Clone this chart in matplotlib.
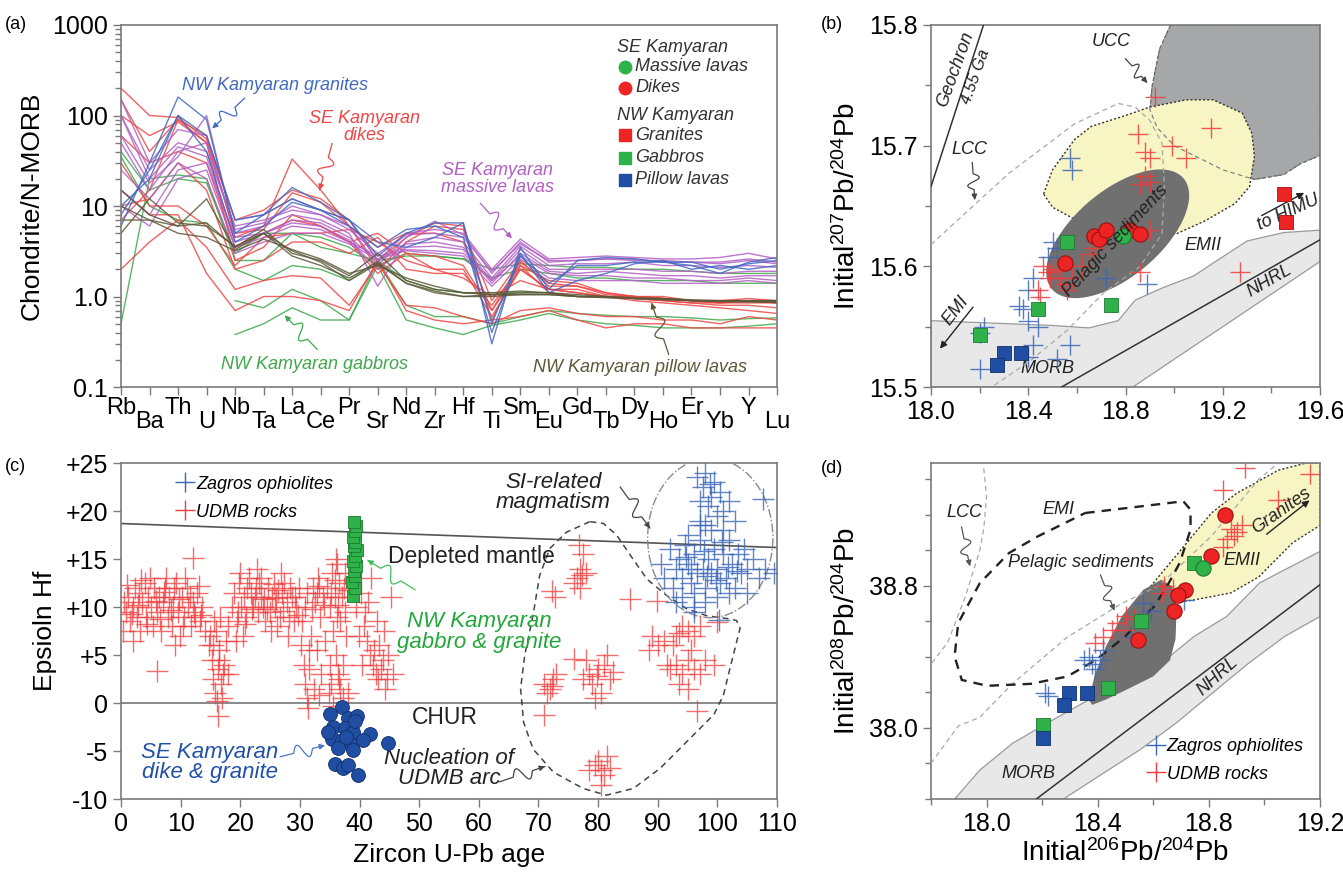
import numpy as np
import matplotlib
matplotlib.use('Agg')
import matplotlib.pyplot as plt
from matplotlib.patches import Polygon, Ellipse
from matplotlib.lines import Line2D

plt.rcParams['font.family'] = ['Liberation Sans', 'DejaVu Sans']
plt.rcParams['mathtext.fontset'] = 'custom'
plt.rcParams['mathtext.rm'] = 'Liberation Sans'
plt.rcParams['mathtext.it'] = 'Liberation Sans:italic'

# ---------------- (a) spider diagram data ----------------
elements = ['Rb', 'Ba', 'Th', 'U', 'Nb', 'Ta', 'La', 'Ce', 'Pr', 'Sr', 'Nd', 'Zr',
            'Hf', 'Ti', 'Sm', 'Eu', 'Gd', 'Tb', 'Dy', 'Ho', 'Er', 'Yb', 'Y', 'Lu']
nan = np.nan
se_lavas = [
    [150, 30, 70, 60, 7, 8, 12, 9, 7, 2.5, 5, 5.5, 5, 2.0, 4.3, 2.6, 2.7, 2.8, 2.7, 2.6, 2.6, 2.7, 3.0, 2.6],
    [100, 25, 50, 40, 6, 7, 9, 8, 6, 2.2, 4.5, 6.8, 4.8, 1.8, 4.0, 2.4, 2.5, 2.6, 2.6, 2.4, 2.4, 2.3, 2.5, 2.3],
    [60, 18, 35, 100, 5, 6, 8, 7, 5, 1.3, 4, 4.5, 4, 1.6, 3.6, 2.2, 2.3, 2.3, 2.4, 2.2, 2.2, 2.1, 2.2, 2.1],
    [15, 8, 25, 30, 4.5, 5, 7, 6.5, 4.5, 2.5, 3.8, 4, 3.5, 1.5, 3.3, 2.0, 2.0, 2.0, 2.0, 1.9, 1.9, 1.8, 1.9, 1.9],
    [100, 20, 45, 35, 4, 5, 6.5, 6, 4.2, 2.0, 3.5, 3.6, 3.3, 1.4, 3.0, 1.9, 1.8, 1.9, 1.8, 1.7, 1.7, 1.6, 1.7, 1.7],
    [10, 6, 20, 25, 3.5, 4.5, 6, 5.5, 4, 2.8, 3.3, 3.2, 3.0, 1.5, 2.8, 1.8, 1.7, 1.7, 1.6, 1.6, 1.5, 1.5, 1.6, 1.5],
    [50, 15, 40, 50, 5.5, 6.5, 10, 8, 5.5, 3.0, 4.8, 5, 4.5, 1.9, 3.8, 2.5, 2.5, 2.6, 2.5, 2.5, 2.4, 2.4, 2.6, 2.4],
    [25, 12, 30, 20, 3, 4, 5, 5, 3.8, 2.6, 3.2, 3.0, 2.8, 1.3, 2.6, 1.6, 1.5, 1.5, 1.5, 1.4, 1.4, 1.4, 1.5, 1.4],
]
se_dikes = [
    [200, 100, 95, 55, 7, 9, 15, 12, 7, 2.5, 4.5, 6.5, 6, 0.55, 2.2, 1.5, 1.4, 1.1, 1.0, 0.95, 0.9, 0.85, 0.9, 0.85],
    [150, 40, 90, 60, 4.5, 6, 33, 15, 6, 2, 4, 6, 5.5, 0.9, 2.5, 1.3, 1.3, 1.1, 1.0, 1.0, 0.9, 0.9, 0.9, 0.9],
    [60, 30, 40, 30, 3.5, 5, 7, 6, 4, 1.8, 3, 2, 2, 0.6, 2.0, 1.2, 1.2, 1.0, 1.0, 0.95, 0.9, 0.85, 0.85, 0.85],
    [30, 10, 10, 6, 2.2, 4.5, 5, 5, 5.5, 4, 2.5, 2, 1.6, 1.0, 1.5, 1.2, 1.1, 1.0, 0.95, 0.9, 0.85, 0.8, 0.8, 0.75],
    [15, 8, 8, 1.8, 0.7, 1.0, 1.0, 0.9, 0.7, 2.5, 0.7, 0.55, 0.5, 0.55, 0.6, 0.7, 0.55, 0.45, 0.5, 0.5, 0.45, 0.45, 0.45, 0.45],
    [2, 4, 7, 3.5, 1.2, 1.5, 1.7, 1.6, 0.8, 2.3, 0.8, 0.75, 0.6, 0.5, 0.7, 0.75, 0.65, 0.6, 0.6, 0.55, 0.55, 0.5, 0.6, 0.55],
    [10, 12, 30, 15, 2, 2.5, 4, 4, 3, 4.5, 2, 1.8, 1.8, 0.8, 2.2, 1.1, 1.0, 1.0, 0.95, 0.9, 0.85, 0.85, 0.9, 0.85],
    [100, 60, 85, 50, 5, 5.5, 14, 11, 6, 3.5, 5, 5, 4, 0.7, 2.4, 1.4, 1.3, 1.05, 1.0, 0.95, 0.9, 0.9, 0.95, 0.9],
    [7, 15, 90, 50, 2.5, 3.5, 8, 6, 4, 5, 3, 2.8, 2.2, 0.7, 2.0, 1.2, 1.1, 1.0, 0.9, 0.85, 0.8, 0.75, 0.7, 0.65],
]
nw_granites = [
    [6, 30, 160, 90, 5, 8, 16, 11, 7, 2.8, 5, 6.5, 6.5, 0.3, 3.5, 1.2, 2.5, 2.7, 2.6, 2.4, 2.2, 1.8, 2.4, 2.7],
    [10, 20, 100, 60, 7, 8, 12, 9, 6, 3.5, 5.5, 6, 4.5, 0.4, 2.8, 1.4, 2.2, 2.2, 2.4, 2.4, 2.4, 2.0, 2.3, 2.5],
    [8, 25, 100, 40, 4, 6, 11, 9, 7, 4, 3.5, 4.5, 6.5, 0.5, 3.0, 1.1, 1.5, 1.8, 2.3, 2.5, 2.0, 2.2, 2.0, 2.2],
]
nw_gabbros = [
    [0.5, 20, 22, 20, 2.5, 2.5, 5, 3.5, 3, 2.5, 2.8, 2.8, 2.6, 2.0, 2.3, 2.2, 2.1, 2.1, 2.0, 2.0, 1.9, 1.8, 1.8, 1.8],
    [35, 10, 7, 6.5, 2, 1.5, 2.2, 2, 1.5, 2.5, 1.5, 1.2, 1.1, 1.1, 1.1, 1.1, 1.0, 1.0, 1.0, 0.95, 0.9, 0.9, 0.9, 0.9],
    [40, 15, 20, 18, 3, 5, 5, 4.5, 3.5, 2.2, 3, 2.8, 2.6, 1.6, 2.0, 1.8, 1.6, 1.6, 1.5, 1.5, 1.5, 1.4, 1.4, 1.4],
    [nan, nan, nan, nan, 0.9, 0.75, 1.2, 0.9, 0.55, 2.5, 0.8, 0.6, 0.6, 0.5, 0.6, 0.7, 0.65, 0.62, 0.6, 0.6, 0.58, 0.55, 0.57, 0.58],
    [nan, nan, nan, nan, 0.38, 0.5, 0.75, 0.55, 0.55, 2.2, 0.55, 0.45, 0.38, 0.48, 0.55, 0.65, 0.55, 0.5, 0.48, 0.45, 0.45, 0.45, 0.47, 0.5],
]
nw_pillow = [
    [15, 8, 6, 6.5, 3.5, 5.5, 3, 2.5, 1.7, 3, 1.5, 1.2, 1.1, 1.05, 1.05, 1.05, 1.0, 1.0, 0.95, 0.95, 0.9, 0.9, 0.9, 0.9],
    [10, 7, 6, 12, 3.3, 5, 2.8, 2.2, 1.6, 2.4, 1.4, 1.1, 1.0, 1.05, 1.1, 1.1, 1.0, 0.98, 0.95, 0.93, 0.9, 0.88, 0.88, 0.88],
    [7, 7, 5, 4.5, 3.2, 4.3, 3.3, 2.6, 1.8, 2.2, 1.6, 1.3, 1.1, 1.1, 1.15, 1.1, 1.05, 1.0, 0.97, 0.95, 0.92, 0.9, 0.9, 0.9],
    [5, 12, 6.5, 6, 3.6, 5, 3.2, 2.4, 1.5, 2.3, 1.4, 1.15, 1.0, 1.0, 1.05, 1.05, 1.0, 0.97, 0.95, 0.92, 0.9, 0.88, 0.87, 0.86],
]

# ---------------- (b) 206Pb/204Pb vs 207Pb/204Pb ----------------
b_zagros = [(18.57, 15.69), (18.58, 15.68), (18.50, 15.62), (18.52, 15.615), (18.48, 15.608),
            (18.72, 15.59), (18.89, 15.585), (18.42, 15.59), (18.40, 15.58), (18.36, 15.567),
            (18.38, 15.565), (18.40, 15.555), (18.44, 15.55), (18.22, 15.55), (18.20, 15.545),
            (18.42, 15.535), (18.57, 15.535), (18.52, 15.523), (18.20, 15.515), (18.40, 15.525)]
b_udmb = [(18.92, 15.74), (18.85, 15.71), (19.15, 15.715), (18.88, 15.695), (18.90, 15.69),
          (18.99, 15.70), (19.05, 15.69), (18.88, 15.675), (18.90, 15.67), (18.86, 15.668),
          (18.90, 15.63), (18.67, 15.615), (18.65, 15.61), (18.62, 15.60), (18.50, 15.598),
          (18.48, 15.595), (18.52, 15.596), (18.46, 15.60), (18.55, 15.585), (18.53, 15.59),
          (18.56, 15.58), (18.45, 15.575), (18.44, 15.58), (18.86, 15.595), (19.27, 15.595),
          (18.58, 15.59), (18.49, 15.59)]
b_dikes = [(18.55, 15.603), (18.67, 15.625), (18.69, 15.623), (18.72, 15.63), (18.82, 15.63), (18.86, 15.627)]
b_lavas = [(18.79, 15.625)]
b_granites = [(19.45, 15.66), (19.46, 15.637)]
b_gabbros = [(18.56, 15.62), (18.44, 15.565), (18.74, 15.568), (18.20, 15.543)]
b_pillow = [(18.30, 15.528), (18.37, 15.528), (18.27, 15.518)]

b_morb = [(18.0, 15.555), (18.5, 15.551), (18.65, 15.549), (18.77, 15.555), (18.84, 15.572),
          (18.95, 15.582), (19.08, 15.592), (19.17, 15.604), (19.3, 15.621), (19.45, 15.628),
          (19.6, 15.63), (19.6, 15.604), (18.83, 15.5), (18.0, 15.5)]
b_ucc = [(18.985, 15.8), (18.94, 15.78), (18.91, 15.75), (18.90, 15.73), (18.93, 15.715),
         (19.0, 15.70), (19.1, 15.69), (19.2, 15.68), (19.33, 15.672), (19.45, 15.676),
         (19.52, 15.685), (19.6, 15.692), (19.6, 15.8)]
b_emii = [(18.463, 15.660), (18.5, 15.680), (18.59, 15.705), (18.66, 15.716), (18.80, 15.725),
          (18.90, 15.732), (19.05, 15.738), (19.16, 15.738), (19.28, 15.727), (19.32, 15.71),
          (19.33, 15.691), (19.31, 15.666), (19.25, 15.652), (19.13, 15.638), (19.01, 15.627),
          (18.86, 15.624), (18.71, 15.63), (18.60, 15.638), (18.5, 15.649)]
b_lcc = [(18.0, 15.618), (18.32, 15.677), (18.59, 15.718), (18.77, 15.735), (18.84, 15.732),
         (18.90, 15.721), (18.95, 15.702), (18.96, 15.666), (18.95, 15.627), (18.86, 15.6),
         (18.71, 15.578), (18.56, 15.547), (18.41, 15.522), (18.25, 15.5)]
b_nhrl = [(18.537, 15.5), (19.6, 15.622)]
b_geochron = [(18.0, 15.666), (18.216, 15.8)]

# ---------------- (c) zircon age vs epsilon Hf ----------------
c_udmb = [
    (0.3, 7.5), (0.8, 9.5), (1.2, 11), (1.5, 8.5), (2.0, 10), (2.3, 12), (2.6, 9), (3.0, 11.5), (3.2, 7.5),
    (3.6, 10.5), (4.0, 12.5), (4.2, 9), (4.6, 11), (5.0, 10), (5.3, 8), (5.6, 12), (6.0, 9.5), (6.3, 11),
    (6.7, 7.5), (7.0, 10.5), (7.4, 12), (7.8, 9), (8.1, 11), (8.5, 8), (8.8, 10), (9.2, 12.5), (9.5, 9.5),
    (9.9, 7), (10.2, 11), (10.6, 9), (11.0, 12), (11.3, 10), (11.7, 8), (12.0, 10.5), (12.4, 9), (12.8, 11.5),
    (13.2, 8.5), (13.6, 10), (14.0, 7.5), (6.0, 3.3), (12.1, 15.1), (2.0, 6.5), (9.0, 6),
    (0.5, 10.5), (1.0, 12.3), (1.8, 9.3), (2.8, 10.2), (3.4, 12.8), (4.4, 8.2), (4.8, 13), (5.8, 10.6),
    (6.5, 8.8), (7.2, 11.6), (7.6, 13), (8.3, 9.7), (8.9, 12), (9.7, 10.8), (10.4, 8), (10.8, 13),
    (11.5, 11), (12.2, 9.5), (13.0, 12.2), (13.4, 9.2),
    (14.8, 6), (15.2, 4.5), (15.5, 2.5), (15.8, 1), (16.0, 7.5), (16.2, 3.5), (16.5, 5.5), (16.8, 2),
    (17.0, 0.5), (16.3, -1.3), (17.3, 4), (17.6, 6.5), (15.6, 8.5), (18.0, 3), (16.6, 9), (17.9, 8),
    (16.1, 0.2), (15.0, 7.0), (16.4, 4.5), (15.4, 6), (17.1, 3),
    (18.6, 10), (19.0, 11.5), (19.4, 8.5), (19.8, 12.5), (20.2, 10), (20.6, 11), (21.0, 9), (21.4, 13),
    (21.8, 11.5), (22.2, 10), (22.6, 12), (23.0, 9.5), (23.4, 11), (23.8, 10), (24.2, 8.5), (24.6, 12),
    (25.0, 9.5), (25.4, 11), (25.8, 10), (26.2, 8), (26.6, 9), (27.0, 11.5), (27.4, 12.5), (27.8, 10.5),
    (28.2, 9), (28.6, 11), (29.0, 8.5), (29.4, 10), (29.8, 12), (20.5, 7), (22.8, 14), (19.2, 6.5),
    (25.2, 7.5), (23.5, 13), (26.8, 13.5), (28.0, 7),
    (19.6, 9.5), (20.0, 13.5), (20.8, 8.2), (21.2, 12), (22.0, 9.8), (22.4, 11), (23.2, 12.5), (24.0, 10.8),
    (24.4, 9.8), (25.6, 12.4), (26.0, 10.9), (26.4, 11.8), (27.2, 9.6), (28.4, 12), (29.2, 11), (29.6, 9.2),
    (30.2, 6), (30.6, 4), (30.9, 2), (31.2, 0.5), (30.4, 8.5), (31.6, 3.5), (31.8, 7), (32.2, 12),
    (32.6, 10.5), (33.0, 13), (32.8, 5.5), (31.4, -0.5), (33.4, 9), (33.8, 11), (33.6, 3), (32.4, 1.5),
    (34.2, 6.5), (33.2, 0.8), (30.8, 10), (31.2, 11.5), (31.5, 5.5), (32.0, 9.8), (32.8, 11.5), (33.2, 12.2),
    (34.0, 10.2),
    (34.6, 12), (35.0, 10), (35.4, 13.5), (35.8, 11), (36.2, 14.5), (36.6, 12.5), (35.6, 7.5), (36.0, 5),
    (36.4, 3), (36.8, 1.5), (37.2, 0.5), (35.2, 2), (34.8, 1), (37.6, 9.5), (36.8, 8.5), (37.6, 13.5),
    (36.0, 15), (37.2, 4), (35.5, -0.3), (37.0, 11), (35.2, 11.5), (35.8, 12.8), (36.4, 10.2), (37.4, 12),
    (38.0, 11.8), (36.2, 9), (37.8, 7), (35.0, 4), (36.6, 2.5), (38.0, 1),
    (39.4, 10), (39.9, 7), (40.3, 11.5), (40.8, 8), (41.2, 6.5), (41.7, 5), (42.2, 4), (42.7, 3),
    (43.1, 2.5), (43.6, 3.5), (44.1, 7.5), (44.6, 2.5), (43.9, 4.5), (42.9, 8.5), (45.3, 11), (40.9, 9.5),
    (40.4, 4), (41.9, 13), (44.2, 1.5), (42.4, 5.5), (41.4, 10.5), (43.3, 6), (44.8, 5), (45.6, 3),
    (72.3, 11.7), (72.8, 11.0), (76.0, 12.5), (76.5, 13.0), (77.0, 14.0), (77.5, 15.5), (77.0, 12.0),
    (78.0, 13.5), (76.8, 16.5), (77.3, 13.3), (85.4, 10.8), (89.8, 10.6),
    (88.5, 5.5), (89.0, 7.0), (90.0, 6.0), (91.0, 6.5), (92.5, 6.0), (93.0, 7.0), (94.0, 8.0), (95.0, 7.5),
    (96.0, 7.0), (97.0, 8.0), (95.5, 5.5), (93.5, 7.3),
    (92.0, 3.5), (93.0, 4.0), (94.0, 3.0), (95.0, 4.5), (96.0, 3.5), (97.0, 3.0), (93.5, 2.0), (95.0, 1.5),
    (98.0, 4.5), (91.5, 4.0), (100.0, 8.4), (99.5, 4.0),
    (71.0, 2.0), (72.0, 1.5), (72.5, 2.5), (71.5, 1.0), (73.0, 3.0), (72.2, 1.8), (70.9, -1.2), (75.9, 4.6),
    (77.5, 2.5), (78.5, 3.0), (79.0, 2.0), (80.0, 3.5), (81.0, 4.0), (82.0, 2.5), (80.5, 1.0), (79.5, 0.5),
    (78.0, 4.5), (81.5, 5.0), (79.8, 2.8), (82.5, 3.2),
    (96.6, -0.8), (80.0, -6.0), (80.5, -7.0), (81.0, -7.5), (81.5, -5.5), (80.5, -8.5), (79.5, -6.5),
    (82.0, -6.8), (78.5, -7.0)]
c_zagros = [
    (96.5, 23.5), (97.5, 22.5), (98.0, 24.0), (99.0, 21.5), (98.5, 20.5), (97.0, 21.0), (99.5, 23.0),
    (100.0, 19.5), (98.0, 18.5), (101.0, 20.0), (100.5, 22.0), (97.0, 19.0), (107.6, 21.3), (98.8, 22.8),
    (102.0, 21.0), (92.0, 16.0), (93.0, 14.0), (93.5, 15.0), (94.0, 13.0), (94.5, 16.5), (95.0, 14.5),
    (95.5, 12.5), (96.0, 15.5), (96.5, 13.5), (97.0, 17.0), (97.5, 14.0), (98.0, 12.0), (98.5, 15.0),
    (99.0, 13.5), (99.5, 16.0), (100.0, 14.0), (100.5, 12.5), (101.0, 15.5), (101.5, 13.0), (102.0, 17.0),
    (102.5, 14.5), (103.0, 12.0), (103.5, 15.5), (104.0, 13.5), (104.5, 16.0), (105.0, 14.0), (106.0, 15.0),
    (107.0, 13.0), (108.0, 14.0), (109.5, 13.5), (91.0, 13.0), (92.5, 12.0), (94.0, 11.0), (96.0, 11.5),
    (98.0, 10.5), (100.0, 11.0), (102.0, 11.5), (97.0, 18.5), (99.0, 18.0), (101.0, 18.0), (103.0, 19.0),
    (95.0, 17.5), (96.0, 10.0), (105.0, 11.5), (93.0, 10.5), (90.5, 14.5), (100.2, 8.6), (96.0, 9.5),
    (95.5, 14.0), (97.8, 15.8), (99.8, 12.8), (101.8, 14.2), (94.8, 15.2), (103.2, 13.8), (98.2, 13.2),
    (100.8, 16.8)]
c_nw_age = [38.9, 39.2, 38.8, 39.3, 39.0, 39.4, 38.9, 39.2, 39.5, 39.0, 39.3, 38.9, 39.2, 39.4, 39.1]
c_nw_ehf = [11.2, 12.0, 12.6, 13.2, 13.8, 14.3, 14.8, 15.3, 15.9, 16.4, 16.8, 17.3, 17.9, 18.4, 18.9]
c_se = [(37.0, -0.4), (35.0, -1.1), (38.1, -1.6), (39.5, -1.4), (35.6, -2.5), (37.5, -2.6), (38.9, -3.0),
        (41.7, -3.2), (35.3, -3.7), (37.0, -3.9), (38.7, -4.4), (40.6, -3.9), (44.8, -4.2), (36.4, -4.7),
        (38.9, -4.9), (35.9, -6.3), (37.3, -6.8), (38.1, -6.5), (39.8, -7.5), (39.2, -1.9), (34.7, -3.0),
        (37.8, -3.5)]
dm_age = [0, 110]
dm_ehf = [18.7, 16.2]
c_nucleation = [(78.6, 18.9), (74.7, 17.8), (71.9, 16.1), (70.2, 13.3), (69.1, 9.2), (67.7, 5.0),
                (67.0, 1.5), (67.5, -2.0), (69.1, -4.8), (72.5, -7.2), (77.5, -8.9), (81.4, -9.6),
                (85.9, -8.9), (90.4, -6.8), (94.9, -4.0), (99.4, -1.2), (101.0, 0.8), (102.1, 3.6),
                (103.8, 7.8), (103.2, 8.6), (101.6, 8.8), (98.2, 9.1), (94.9, 9.8), (91.5, 11.2),
                (88.2, 12.9), (85.4, 15.4), (83.1, 17.5), (80.9, 18.7)]

# ---------------- (d) 206Pb/204Pb vs 208Pb/204Pb ----------------
d_zagros = [(18.21, 38.195), (18.22, 38.18), (18.368, 38.40), (18.38, 38.36), (18.41, 38.38),
            (18.35, 38.38), (18.42, 38.44), (18.52, 38.51), (18.564, 38.70), (18.59, 38.66),
            (18.71, 38.72), (18.39, 38.33)]
d_udmb = [(18.93, 39.46), (18.85, 39.34), (19.165, 39.43), (19.05, 39.28), (18.88, 39.12), (18.90, 39.10),
          (18.865, 39.06), (18.89, 39.08), (18.85, 39.02), (18.92, 39.14), (18.64, 38.80), (18.67, 38.78),
          (18.63, 38.76), (18.50, 38.63), (18.47, 38.59), (18.45, 38.55), (18.42, 38.51), (18.39, 38.48),
          (18.49, 38.55), (18.53, 38.61)]
d_dikes = [(18.858, 39.2), (18.806, 38.965), (18.714, 38.777), (18.688, 38.749), (18.675, 38.655), (18.544, 38.496)]
d_lavas = [(18.78, 38.90)]
d_gabbros = [(18.747, 38.93), (18.557, 38.603), (18.436, 38.223), (18.202, 38.017)]
d_pillow = [(18.202, 37.942), (18.296, 38.195), (18.362, 38.195), (18.277, 38.13)]

d_morb = [(17.885, 37.6), (17.976, 37.763), (18.094, 37.914), (18.238, 38.045), (18.368, 38.158),
          (18.499, 38.252), (18.629, 38.364), (18.747, 38.515), (18.864, 38.627), (18.982, 38.815),
          (19.073, 38.89), (19.2, 38.993), (19.2, 38.627), (19.073, 38.515), (18.943, 38.364),
          (18.812, 38.195), (18.681, 38.026), (18.551, 37.876), (18.42, 37.745), (18.277, 37.6)]
d_pelagic = [(18.368, 38.158), (18.39, 38.30), (18.43, 38.46), (18.486, 38.627), (18.564, 38.777),
             (18.629, 38.834), (18.668, 38.796), (18.684, 38.665), (18.68, 38.50), (18.66, 38.38),
             (18.60, 38.29), (18.51, 38.22), (18.43, 38.16), (18.38, 38.13)]
d_emii = [(18.59, 38.796), (18.68, 38.965), (18.81, 39.21), (18.90, 39.32), (19.05, 39.45), (19.15, 39.49),
          (19.2, 39.49), (19.2, 39.14), (19.10, 39.04), (18.98, 38.85), (18.88, 38.76), (18.747, 38.72),
          (18.655, 38.70), (18.60, 38.72)]
d_emi = [(18.355, 39.209), (18.708, 39.275), (18.734, 39.228), (18.734, 39.115), (18.695, 38.928),
         (18.649, 38.796), (18.603, 38.684), (18.499, 38.515), (18.394, 38.383), (18.29, 38.289),
         (18.159, 38.248), (18.002, 38.237), (17.911, 38.27), (17.885, 38.402), (17.898, 38.59),
         (17.976, 38.815), (18.081, 38.984), (18.185, 39.078)]
d_lcc_a = [(17.99, 39.46), (18.0, 39.3), (17.99, 39.12), (17.976, 39.0), (17.924, 38.74), (17.86, 38.48), (17.8, 38.36)]
d_lcc_b = [(17.8, 37.80), (17.898, 38.01), (17.976, 38.06), (18.094, 38.25), (18.29, 38.51), (18.486, 38.70),
           (18.62, 38.80), (18.81, 39.08), (18.98, 39.40), (19.05, 39.49)]
d_nhrl = [(18.179, 37.6), (19.2, 38.806)]

# colours
RED, PURPLE, BLUE, GREEN, OLIVE = '#ef4646', '#b25fc4', '#4169c0', '#3fa84c', '#5c5838'
CROSS_RED, CROSS_BLUE = '#f03c3c', '#3a66b8'
DOT_RED, DOT_GREEN, DOT_BLUE = '#ee2424', '#2fb24a', '#1f4ea3'
GRID = '#7a7a7a'
TICK = 18
LAB = 19
ANN = 13


def frame(ax, size=TICK):
    for s in ax.spines.values():
        s.set_color(GRID)
        s.set_linewidth(1.2)
    ax.tick_params(which='both', direction='out', color=GRID, labelsize=size, length=6, width=1)
    ax.tick_params(which='minor', length=4)


def squiggle(ax, start, end, color, amp=7, lw=0.9):
    tr = ax.transData
    p0 = np.array(tr.transform(start))
    p1 = np.array(tr.transform(end))
    d = p1 - p0
    u = d / np.hypot(*d)
    n = np.array([-u[1], u[0]])
    s = np.linspace(0, 1, 120)
    w = np.where((s > 0.3) & (s < 0.72), np.sin((s - 0.3) / 0.42 * 2 * np.pi), 0.0)
    pts_ = p0 + np.outer(s, d) + np.outer(amp * w, n)
    dat = tr.inverted().transform(pts_)
    ax.plot(dat[:-4, 0], dat[:-4, 1], color=color, lw=lw, clip_on=False, zorder=6)
    ax.annotate('', xy=dat[-1], xytext=dat[-8],
                arrowprops=dict(arrowstyle='-|>', color=color, lw=lw, mutation_scale=8), zorder=6)


def arrow(ax, start, end, color='#222222'):
    ax.annotate('', xy=end, xytext=start,
                arrowprops=dict(arrowstyle='-|>', color=color, lw=1.0, mutation_scale=10), zorder=6)


def disp_ellipse(ax, center, w_px, h_px, angle, **kw):
    t = np.linspace(0, 2 * np.pi, 200)
    c = ax.transData.transform(center)
    a = np.deg2rad(angle)
    xs, ys = w_px / 2 * np.cos(t), h_px / 2 * np.sin(t)
    px = c[0] + xs * np.cos(a) - ys * np.sin(a)
    py = c[1] + xs * np.sin(a) + ys * np.cos(a)
    pp = ax.transData.inverted().transform(np.column_stack([px, py]))
    ax.add_patch(Polygon(pp, closed=True, **kw))


def pts(ax, data, marker, color, ms, edge=None, z=7, mew=1.0, alpha=1.0):
    arr = np.array(data)
    ax.plot(arr[:, 0], arr[:, 1], linestyle='none', marker=marker, color=color, ms=ms,
            mec=edge if edge else color, mew=mew, alpha=alpha, zorder=z)


fig = plt.figure(figsize=(13.43, 8.77), dpi=100)
ax_a = fig.add_axes([0.0901, 0.5587, 0.4885, 0.4128])
ax_b = fig.add_axes([0.6932, 0.5587, 0.2897, 0.4128])
ax_c = fig.add_axes([0.0901, 0.0889, 0.4885, 0.3831])
ax_d = fig.add_axes([0.6932, 0.0889, 0.2897, 0.3831])

# ======================= (a) =======================
ax = ax_a
frame(ax)
x = np.arange(len(elements))
for group, col in [(nw_gabbros, GREEN), (se_dikes, RED), (se_lavas, PURPLE), (nw_granites, BLUE), (nw_pillow, OLIVE)]:
    for row in group:
        ax.plot(x, row, color=col, lw=1.0, alpha=0.85)
ax.set_yscale('log')
ax.set_ylim(0.1, 1000)
ax.set_xlim(0, len(elements) - 1)
ax.set_yticks([0.1, 1, 10, 100, 1000])
ax.set_yticklabels(['0.1', '1.0', '10', '100', '1000'])
ax.set_xticks(x)
ax.set_xticklabels(elements)
ax.tick_params(axis='x', labelsize=17, pad=1)
for lab in ax.get_xticklabels()[1::2]:
    lab.set_y(-0.04)
ax.set_ylabel('Chondrite/N-MORB', fontsize=LAB, labelpad=6)

ax.text(5.4, 215, 'NW Kamyaran granites', color=BLUE, style='italic', fontsize=ANN, ha='center', va='center')
ax.text(8.55, 75, 'SE Kamyaran\ndikes', color=RED, style='italic', fontsize=ANN, ha='center', va='center', linespacing=1.0)
ax.text(13.2, 20, 'SE Kamyaran\nmassive lavas', color=PURPLE, style='italic', fontsize=ANN, ha='center', va='center', linespacing=1.0)
ax.text(6.8, 0.176, 'NW Kamyaran gabbros', color=GREEN, style='italic', fontsize=ANN, ha='center', va='center')
ax.text(18.2, 0.165, 'NW Kamyaran pillow lavas', color=OLIVE, style='italic', fontsize=ANN, ha='center', va='center')
squiggle(ax, (4.33, 155), (3.2, 72), BLUE)
squiggle(ax, (7.4, 49), (6.96, 15), RED)
squiggle(ax, (12.6, 10.7), (13.7, 4.4), PURPLE)
squiggle(ax, (6.88, 0.26), (5.74, 0.62), GREEN)
squiggle(ax, (19.2, 0.23), (18.6, 0.85), OLIVE)

# legend of (a)
leg_rows = [('SE Kamyaran', None, None, 0.939), ('Massive lavas', 'o', DOT_GREEN, 0.884),
            ('Dikes', 'o', DOT_RED, 0.826), ('NW Kamyaran', None, None, 0.751),
            ('Granites', 's', DOT_RED, 0.696), ('Gabbros', 's', DOT_GREEN, 0.633),
            ('Pillow lavas', 's', DOT_BLUE, 0.572)]
for label, mk, col, yy in leg_rows:
    if mk is None:
        ax.text(0.756, yy, label, transform=ax.transAxes, style='italic', fontsize=ANN, color='#333333', va='center')
    else:
        ax.plot([0.768], [yy], marker=mk, color=col, ms=9, transform=ax.transAxes, clip_on=False)
        ax.text(0.784, yy, label, transform=ax.transAxes, style='italic', fontsize=ANN, color='#333333', va='center')

# ======================= (b) =======================
ax = ax_b
frame(ax)
ax.set_xlim(18.0, 19.6)
ax.set_ylim(15.5, 15.8)
ax.set_xticks([18.0, 18.4, 18.8, 19.2, 19.6])
ax.set_xticks(np.arange(18.2, 19.6, 0.4), minor=True)
ax.set_yticks([15.5, 15.6, 15.7, 15.8])
ax.set_yticks([15.55, 15.65, 15.75], minor=True)
ax.xaxis.set_major_formatter(plt.FormatStrFormatter('%.1f'))
ax.yaxis.set_major_formatter(plt.FormatStrFormatter('%.1f'))
ax.set_ylabel('Initial$^{\\mathregular{207}}$Pb/$^{\\mathregular{204}}$Pb', fontsize=LAB + 1, labelpad=6)

ax.add_patch(Polygon(b_morb, closed=True, fc='#e8e8e8', ec='#9a9a9a', lw=0.9, zorder=1))
ax.add_patch(Polygon(b_ucc, closed=True, fc='#a5a7a9', ec='#555555', lw=0.8, ls=(0, (3, 2)), zorder=1))
ax.add_patch(Polygon(b_emii, closed=True, fc='#f8f5c4', ec='#333333', lw=1.0, ls=(0, (1.5, 1.5)), zorder=2))
ax.add_patch(Polygon(b_ucc, closed=True, fill=False, ec='#777777', lw=0.8, ls=(0, (4, 3)), zorder=2.5))
ax.plot(*zip(*b_lcc), color='#a8a8a8', lw=0.9, ls=(0, (4, 3)), zorder=4)
ax.plot(*zip(*b_nhrl), color='#333333', lw=1.1, zorder=3)
ax.plot(*zip(*b_geochron), color='#333333', lw=1.1, zorder=3)
disp_ellipse(ax, (18.768, 15.627), 172, 86, 40, fc='#707070', ec='none', zorder=3)

pts(ax, b_zagros, '+', CROSS_BLUE, 15, z=6, alpha=0.85)
pts(ax, b_udmb, '+', CROSS_RED, 15, z=6, alpha=0.85)
pts(ax, b_gabbros, 's', DOT_GREEN, 9.5, edge='#1d7a30', mew=0.6)
pts(ax, b_pillow, 's', DOT_BLUE, 9.5, edge='#10306a', mew=0.6)
pts(ax, b_granites, 's', DOT_RED, 9.5, edge='#a01010', mew=0.6)
pts(ax, b_dikes, 'o', DOT_RED, 11, edge='#9a1010', mew=0.8, z=8)
pts(ax, b_lavas, 'o', DOT_GREEN, 11, edge='#1d7a30', mew=0.8, z=8)

it = dict(style='italic', color='#222222', ha='center', va='center')
ax.text(18.10, 15.763, 'Geochron', rotation=70, fontsize=ANN, **it)
ax.text(18.185, 15.757, '4.55 Ga', rotation=70, fontsize=ANN - 1.5, **it)
ax.text(18.74, 15.786, 'UCC', fontsize=ANN, **it)
ax.text(18.16, 15.697, 'LCC', fontsize=ANN, **it)
ax.text(18.76, 15.621, 'Pelagic sediments', rotation=47, fontsize=ANN, zorder=9, **it)
ax.text(19.12, 15.617, 'EMII', fontsize=ANN, **it)
ax.text(19.47, 15.645, 'to HIMU', rotation=24, fontsize=ANN, **it)
ax.text(19.39, 15.588, 'NHRL', rotation=30, fontsize=ANN, **it)
ax.text(18.10, 15.563, 'EMI', rotation=52, fontsize=ANN, **it)
ax.text(18.48, 15.515, 'MORB', fontsize=ANN, **it)
squiggle(ax, (18.80, 15.772), (18.89, 15.752), '#444444', amp=6)
squiggle(ax, (18.17, 15.686), (18.18, 15.655), '#444444', amp=6)
arrow(ax, (18.18, 15.568), (18.03, 15.53))
arrow(ax, (19.35, 15.641), (19.545, 15.662))

# ======================= (c) =======================
ax = ax_c
frame(ax)
ax.set_xlim(0, 110)
ax.set_ylim(-10, 25)
ax.set_xticks(np.arange(0, 111, 10))
ax.set_yticks(np.arange(-10, 26, 5))
ax.set_yticklabels(['-10', '-5', '0', '+5', '+10', '+15', '+20', '+25'])
ax.set_xlabel('Zircon U-Pb age', fontsize=LAB, labelpad=5)
ax.set_ylabel('Epsioln Hf', fontsize=LAB, labelpad=6)

ax.plot(dm_age, dm_ehf, color='#555555', lw=1.2, zorder=2)
ax.axhline(0, color='#777777', lw=1.2, zorder=2)
ax.add_patch(Polygon(c_nucleation, closed=True, fill=False, ec='#444444', lw=1.1, ls=(0, (4, 3)), zorder=3))
ax.add_patch(Ellipse((98.8, 17.2), 21, 16.6, fill=False, ec='#8a8a8a', lw=1.0, ls='-.', zorder=3))

pts(ax, c_udmb, '+', CROSS_RED, 16, z=4, alpha=0.75)
pts(ax, c_zagros, '+', CROSS_BLUE, 16, z=4, alpha=0.8)
ax.plot(c_nw_age, c_nw_ehf, linestyle='none', marker='s', color=DOT_GREEN, mec='#1d7a30', mew=0.6, ms=9, zorder=6)
pts(ax, c_se, 'o', DOT_BLUE, 10, edge='#10306a', mew=0.6, z=6)

ax.text(58.7, 15.3, 'Depleted mantle', fontsize=16.5, color='#222222', ha='center', va='center')
ax.text(54.3, -1.5, 'CHUR', fontsize=16.5, color='#222222', ha='center', va='center')
ax.text(60, 7.4, 'NW Kamyaran\ngabbro & granite', fontsize=16, color='#22a83a', style='italic',
        ha='center', va='center', linespacing=0.95)
ax.text(14.9, -6.2, 'SE Kamyaran\ndike & granite', fontsize=16, color='#2150a8', style='italic',
        ha='center', va='center', linespacing=0.95)
ax.text(55, -6.8, 'Nucleation of\nUDMB arc', fontsize=16, color='#222222', style='italic',
        ha='center', va='center', linespacing=0.95)
ax.text(72.5, 21.9, 'SI-related\nmagmatism', fontsize=16, color='#222222', style='italic',
        ha='center', va='center', linespacing=0.95)
squiggle(ax, (83.7, 22.5), (88.7, 18.2), '#444444', amp=7)
squiggle(ax, (49.3, 11.8), (41.3, 14.9), '#3fbf5a', amp=7)
squiggle(ax, (26.7, -5.6), (34.2, -4.4), '#4a78c8', amp=7)
squiggle(ax, (63.5, -8.2), (71.1, -6.6), '#444444', amp=7)

hz = Line2D([], [], ls='none', marker='+', ms=15, mew=1.0, color=CROSS_BLUE, label='Zagros ophiolites')
hu = Line2D([], [], ls='none', marker='+', ms=15, mew=1.0, color=CROSS_RED, label='UDMB rocks')
ax.legend(handles=[hz, hu], loc='upper left', bbox_to_anchor=(0.065, 1.0), frameon=False,
          prop=dict(style='italic', size=ANN), handlelength=1.0, handletextpad=0.1, labelspacing=0.6,
          borderaxespad=0.3)

# ======================= (d) =======================
ax = ax_d
frame(ax)
ax.set_xlim(17.8, 19.2)
ax.set_ylim(37.6, 39.49)
ax.set_xticks([18.0, 18.4, 18.8, 19.2])
ax.set_xticks([17.8, 18.2, 18.6, 19.0], minor=True)
ax.set_yticks([38.0, 38.8])
ax.set_yticks(np.arange(37.6, 39.45, 0.2), minor=True)
ax.xaxis.set_major_formatter(plt.FormatStrFormatter('%.1f'))
ax.yaxis.set_major_formatter(plt.FormatStrFormatter('%.1f'))
ax.set_ylabel('Initial$^{\\mathregular{208}}$Pb/$^{\\mathregular{204}}$Pb', fontsize=LAB + 1, labelpad=6)
ax.set_xlabel('Initial$^{\\mathregular{206}}$Pb/$^{\\mathregular{204}}$Pb', fontsize=LAB + 1, labelpad=2)

ax.add_patch(Polygon(d_morb, closed=True, fc='#e8e8e8', ec='#9a9a9a', lw=0.9, zorder=1))
ax.add_patch(Polygon(d_emii, closed=True, fc='#f8f5c4', ec='#333333', lw=1.0, ls=(0, (1.5, 1.5)), zorder=2))
ax.add_patch(Polygon(d_pelagic, closed=True, fc='#707070', ec='none', zorder=2.5))
ax.add_patch(Polygon(d_emi, closed=True, fill=False, ec='#222222', lw=1.7, ls=(0, (4, 3)), zorder=4))
ax.plot(*zip(*d_lcc_a), color='#a8a8a8', lw=0.9, ls=(0, (4, 3)), zorder=3)
ax.plot(*zip(*d_lcc_b), color='#a8a8a8', lw=0.9, ls=(0, (4, 3)), zorder=3)
ax.plot(*zip(*d_nhrl), color='#333333', lw=1.1, zorder=3)

pts(ax, d_zagros, '+', CROSS_BLUE, 15, z=6, alpha=0.85)
pts(ax, d_udmb, '+', CROSS_RED, 15, z=6, alpha=0.85)
pts(ax, d_gabbros, 's', DOT_GREEN, 9.5, edge='#1d7a30', mew=0.6)
pts(ax, d_pillow, 's', DOT_BLUE, 9.5, edge='#10306a', mew=0.6)
pts(ax, d_dikes, 'o', DOT_RED, 11, edge='#9a1010', mew=0.8, z=8)
pts(ax, d_lavas, 'o', DOT_GREEN, 11, edge='#1d7a30', mew=0.8, z=8)

ax.text(17.92, 39.21, 'LCC', fontsize=ANN, **it)
ax.text(18.26, 39.23, 'EMI', fontsize=ANN, **it)
ax.text(18.34, 38.93, 'Pelagic sediments', fontsize=ANN, zorder=9, **it)
ax.text(18.92, 38.94, 'EMII', fontsize=ANN, **it)
ax.text(19.06, 39.22, 'Granites', rotation=35, fontsize=ANN, **it)
ax.text(18.83, 38.29, 'NHRL', rotation=42, fontsize=ANN, **it)
ax.text(18.15, 37.745, 'MORB', fontsize=ANN, **it)
squiggle(ax, (17.91, 39.13), (17.94, 38.91), '#555555', amp=6)
squiggle(ax, (18.41, 38.86), (18.46, 38.66), '#555555', amp=6)
arrow(ax, (19.0, 39.08), (19.17, 39.29))
ax.legend(handles=[hz, hu], loc='lower right', bbox_to_anchor=(1.0, 0.0), frameon=False,
          prop=dict(style='italic', size=ANN), handlelength=1.0, handletextpad=0.1, labelspacing=0.6)

for lab, (fx, fy) in {'(a)': (0.004, 0.972), '(b)': (0.611, 0.972), '(c)': (0.004, 0.468), '(d)': (0.611, 0.466)}.items():
    fig.text(fx, fy, lab, fontsize=13, va='center')

fig.savefig('out.png', dpi=100)
